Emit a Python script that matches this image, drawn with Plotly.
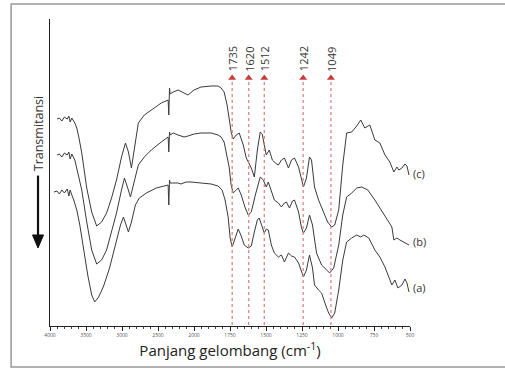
import plotly.graph_objects as go

# ---- data (wavenumber cm-1, transmittance a.u.) ----
wn_c = [3903, 3870, 3835, 3800, 3760, 3738, 3720, 3697, 3655, 3628, 3600, 3559, 3490, 3421, 3352, 3283, 3214, 3145, 3076, 3007,
        2952, 2911, 2869, 2828, 2773, 2690, 2593, 2455, 2359, 2350, 2340, 2331, 2290, 2221, 2138, 2083, 2000, 1951, 1881, 1833,
        1812, 1791, 1770, 1756, 1742, 1728, 1707, 1686, 1658, 1637, 1616, 1602, 1581, 1560, 1540, 1526, 1512, 1498, 1477, 1456,
        1435, 1414, 1393, 1372, 1358, 1344, 1323, 1302, 1274, 1253, 1240, 1219, 1198, 1184, 1163, 1135, 1100, 1072, 1044, 1023,
        995, 967, 940, 905, 870, 842, 814, 779, 744, 709, 674, 640, 612, 591, 577, 556, 535, 521, 507]
t_c = [211, 212, 209, 213, 211, 214, 208, 212, 207, 202, 193, 177, 142, 118, 104, 108, 117, 132, 150, 173,
       187, 178, 162, 180, 207, 215, 220, 227, 230, 215, 242, 236, 238, 240, 237, 235, 240, 243, 244, 244,
       242, 238, 225, 212, 198, 191, 195, 197, 185, 172, 165, 162, 153, 180, 198, 196, 185, 175, 180, 170,
       167, 165, 170, 172, 167, 162, 170, 172, 163, 150, 143, 152, 173, 170, 143, 130, 117, 108, 103, 105,
       120, 165, 197, 198, 204, 210, 202, 205, 190, 187, 175, 168, 158, 163, 160, 162, 166, 164, 155]

wn_b = [3903, 3870, 3835, 3800, 3760, 3738, 3720, 3697, 3655, 3628, 3600, 3559, 3490, 3421, 3352, 3283, 3214, 3145, 3076, 3007,
        2966, 2925, 2883, 2842, 2773, 2690, 2593, 2455, 2359, 2350, 2340, 2331, 2290, 2221, 2138, 2083, 2000, 1951, 1881, 1833,
        1812, 1791, 1770, 1756, 1742, 1728, 1707, 1693, 1672, 1644, 1623, 1602, 1574, 1540, 1519, 1498, 1484, 1463, 1442, 1414,
        1393, 1372, 1358, 1337, 1316, 1302, 1274, 1253, 1240, 1219, 1198, 1177, 1149, 1114, 1079, 1058, 1030, 995, 967, 940,
        905, 870, 835, 793, 744, 709, 674, 640, 626, 612, 591, 570, 542, 507]
t_b = [175, 176, 173, 177, 175, 178, 171, 176, 170, 162, 155, 140, 108, 80, 66, 70, 80, 98, 117, 140,
       152, 143, 133, 145, 165, 173, 180, 188, 193, 178, 198, 195, 197, 195, 193, 194, 196, 197, 197, 195,
       193, 188, 175, 163, 145, 137, 140, 142, 135, 122, 115, 118, 135, 153, 150, 143, 148, 138, 130, 127,
       123, 127, 128, 122, 129, 130, 118, 102, 97, 102, 115, 105, 77, 65, 60, 57, 62, 85, 115, 133,
       137, 142, 143, 140, 130, 122, 113, 106, 103, 90, 92, 90, 88, 85]

wn_a = [3945, 3903, 3870, 3835, 3800, 3760, 3738, 3720, 3697, 3670, 3628, 3586, 3531, 3476, 3421, 3379, 3324, 3255, 3173, 3090,
        3021, 2980, 2938, 2911, 2869, 2814, 2759, 2662, 2524, 2414, 2359, 2350, 2340, 2331, 2290, 2221, 2180, 2111, 2042, 1951,
        1881, 1833, 1805, 1784, 1763, 1749, 1735, 1714, 1693, 1672, 1651, 1623, 1602, 1581, 1560, 1547, 1526, 1512, 1498, 1484,
        1463, 1442, 1414, 1393, 1372, 1344, 1323, 1302, 1274, 1253, 1240, 1219, 1198, 1177, 1163, 1135, 1114, 1086, 1065, 1044,
        1023, 995, 967, 940, 905, 870, 842, 821, 786, 744, 709, 674, 640, 626, 605, 584, 556, 535, 521, 507]
t_a = [138, 139, 136, 140, 137, 141, 134, 140, 135, 130, 120, 105, 80, 55, 35, 28, 33, 44, 62, 85,
       105, 113, 105, 98, 108, 125, 132, 137, 142, 144, 145, 125, 150, 147, 147, 147, 146, 148, 148, 147,
       146, 144, 140, 130, 113, 92, 83, 92, 101, 94, 85, 82, 84, 98, 110, 112, 102, 97, 101, 100,
       85, 77, 73, 75, 68, 77, 74, 73, 67, 58, 53, 60, 75, 62, 45, 40, 37, 25, 17, 12,
       17, 40, 70, 88, 92, 95, 93, 95, 92, 80, 73, 63, 50, 45, 50, 42, 45, 51, 47, 38]

series_names = ["(a)", "(b)", "(c)"]
series_label_t = [43, 89, 157]
peaks = [1735, 1620, 1512, 1242, 1049]
tick_wn = [4000, 3500, 3000, 2500, 2000, 1750, 1500, 1250, 1000, 750, 500]


def to_u(w):
    # FTIR axis with 2x expansion below 2000 cm-1
    return 4000 - w if w >= 2000 else 2000 + 2 * (2000 - w)


fig = go.Figure()
for wn, t in [(wn_a, t_a), (wn_b, t_b), (wn_c, t_c)]:
    fig.add_trace(go.Scatter(x=[to_u(w) for w in wn], y=t, mode="lines",
                             line=dict(color="#3a3a3a", width=1), showlegend=False,
                             hoverinfo="skip"))

# peak dashed lines
for p in peaks:
    fig.add_shape(type="line", xref="x", yref="y", x0=to_u(p), x1=to_u(p), y0=5, y1=250,
                  line=dict(color="#e07a7a", width=1.2, dash="dot"))
    fig.add_annotation(x=to_u(p), y=271, xref="x", yref="y", text=str(p), textangle=-90,
                       showarrow=False, font=dict(size=11, color="#333", family="Open Sans"))

fig.add_trace(go.Scatter(x=[to_u(p) for p in peaks], y=[252] * len(peaks), mode="markers",
                         marker=dict(symbol="triangle-up", size=7, color="#c83c3c"),
                         showlegend=False, cliponaxis=False, hoverinfo="skip"))

# series labels
for name, ty in zip(series_names, series_label_t):
    fig.add_annotation(x=1.004, xref="paper", y=ty, yref="y", text=name, xanchor="left",
                       showarrow=False, font=dict(size=11, color="#333", family="Open Sans"))

# y label + downward arrow
fig.add_annotation(x=-0.033, y=0.625, xref="paper", yref="paper", text="Transmitansi",
                   xanchor="center", yanchor="middle",
                   textangle=-90, showarrow=False, font=dict(size=12.5, color="#333", family="Open Sans"))
fig.add_shape(type="line", xref="paper", yref="paper", x0=-0.0333, x1=-0.0333, y0=0.49, y1=0.29,
              line=dict(color="#111", width=2.2))
fig.add_shape(type="path", xref="paper", yref="paper",
              path="M -0.0486,0.2965 L -0.0180,0.2965 L -0.0333,0.2541 Z",
              fillcolor="#111", line=dict(color="#111", width=1))

# outer frame
fig.add_shape(type="rect", xref="paper", yref="paper", x0=-0.108, x1=1.27, y0=-0.1336, y1=1.049,
              line=dict(color="#999", width=1.5), layer="below")

fig.update_layout(
    width=505, height=376,
    margin=dict(l=50, r=95, t=19, b=50),
    paper_bgcolor="white", plot_bgcolor="white",
    xaxis=dict(range=[0, 5000], tickvals=[to_u(w) for w in tick_wn], ticktext=[str(w) for w in tick_wn],
               showgrid=False, zeroline=False, showline=True, linecolor="#222", linewidth=1,
               ticks="outside", ticklen=4, tickcolor="#222", tickfont=dict(size=5, color="#555"),
               minor=dict(dtick=100, tick0=0, ticks="outside", ticklen=2, tickcolor="#444"),
               title=dict(text="Panjang gelombang (cm<sup>-1</sup>)", font=dict(size=15, color="#222", family="Open Sans"),
                          standoff=8)),
    yaxis=dict(range=[4, 311], showgrid=False, zeroline=False, showline=True, linecolor="#222", linewidth=1,
               showticklabels=False, ticks=""),
)

fig.write_html("out.html", config={"displayModeBar": False},
               post_script="document.body.style.margin='0';document.body.style.overflow='hidden';")
